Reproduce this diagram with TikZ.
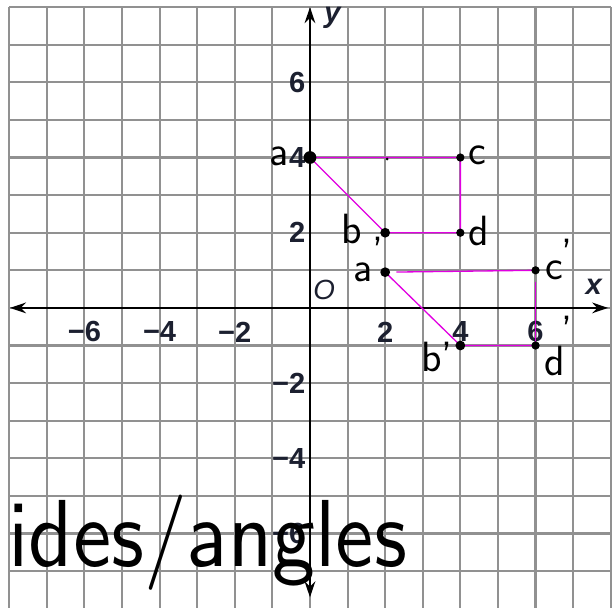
\documentclass[tikz,border=0pt]{standalone}
\usepackage{fontspec}
\newfontfamily\tickfont{Liberation Sans}
\usepackage{graphicx}
\usepackage{tikz}
\usetikzlibrary{arrows.meta}
\definecolor{gridgray}{RGB}{145,145,145}
\definecolor{ink}{RGB}{28,32,48}
\definecolor{pen}{RGB}{225,0,225}
\tikzset{
  ticklabel/.style={font=\fontsize{22}{22}\selectfont\tickfont\bfseries, text=ink, inner sep=0},
  axislabel/.style={font=\fontsize{22}{22}\selectfont\tickfont\bfseries\itshape, text=ink, inner sep=0},
  hand/.style={font=\fontsize{32}{32}\selectfont\sffamily, inner sep=0},
  penline/.style={pen, line width=1pt}
}

\begin{document}
\begin{tikzpicture}[x=1cm,y=1cm]
    \clip (-8.245,-7.98) rectangle (8.06,8.19);
    \fill[white] (-8.245,-7.98) rectangle (8.06,8.19);
    \draw[gridgray,line width=1.6pt] (-8,-9) grid (8,8);
    % axes
    \coordinate (xl) at (-7.98,0);
    \coordinate (xr) at (7.93,0);
    \coordinate (yt) at (0,8.0);
    \coordinate (yb) at (0,-7.7);
    \draw[{Stealth[length=12pt,width=8pt]}-{Stealth[length=12pt,width=8pt]},line width=2pt]
      (xl) -- (xr);
    \draw[{Stealth[length=12pt,width=8pt]}-{Stealth[length=12pt,width=8pt]},line width=2pt]
      (yb) -- (yt);
    \foreach \v/\t [count=\k] in {-6/−6,-4/−4,-2/−2,2/2,4/4,6/6}{
      \node[ticklabel] (xlab\k) at (\v,-0.64) {\t};
      \node[ticklabel,anchor=east] (ylab\k) at (-0.12,\v) {\t};}
    \node[axislabel] (xname) at (7.55,0.55) {x};
    \node[axislabel] (yname) at (0.6,7.72) {y};
    \node[font=\fontsize{21}{21}\selectfont\tickfont\itshape,text=ink,inner sep=0]
      (origin) at (0.38,0.48) {O};
    % figure and its image
    \coordinate (a) at (0,4);
    \coordinate (c) at (4,4);
    \coordinate (d) at (4,2);
    \coordinate (b) at (2,2);
    \coordinate (ap) at (2,0.95);
    \coordinate (cp) at (6,1);
    \coordinate (dp) at (6,-1);
    \coordinate (bp) at (4,-1);
    \draw[penline] (a) -- (c) -- (d) -- (b) -- (a);
    \draw[penline,shorten <=0.3cm] (ap) -- (cp);
    \draw[penline,shorten <=0.3cm] (cp) -- (dp);
    \draw[penline] (dp) -- (bp) -- (ap);
    \fill (a) circle (0.17);
    \foreach \p in {b,bp,ap}{
      \fill (\p) circle (0.13);}
    \foreach \p in {c,d,cp,dp}{
      \fill (\p) circle (0.11);}
    \fill (2.05,3.96) circle (0.04);
    % handwriting
    \node[hand] (na) at (-0.82,4.02) {a};
    \node[hand] (nc) at (4.45,4.05) {c};
    \node[hand] (nb) at (1.12,2.1) {b};
    \node[hand] (nd) at (4.5,2.05) {d};
    \node[hand] (nap) at (1.42,0.95) {a};
    \node[hand] (nap2) at (1.8,1.5) {'};
    \node[hand] (ncp) at (6.5,1.0) {c};
    \node[hand] (ncp2) at (6.85,1.45) {'};
    \node[hand] (nbp) at (3.38,-1.3) {b'};
    \node[hand] (ndp) at (6.5,-1.4) {d};
    \node[hand] (ndp2) at (6.85,-0.62) {'};
    \node[anchor=base west,inner sep=0] (note) at (-8.03,-6.89)
      {\resizebox{10.6cm}{1.9cm}{\sffamily ides/angles}};
  \end{tikzpicture}
\end{document}
